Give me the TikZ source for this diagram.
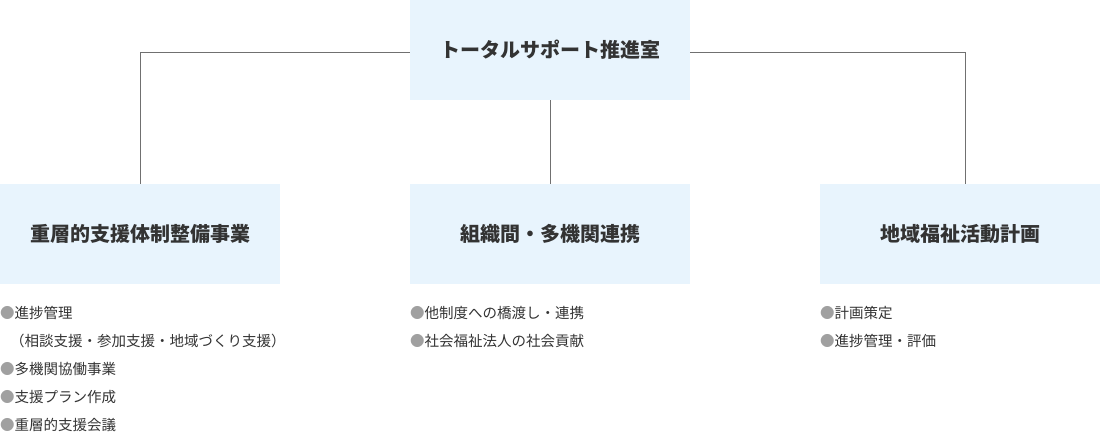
\documentclass[tikz,border=0pt]{standalone}
\usepackage{fontspec}
\setmainfont{Noto Sans CJK JP}
\usetikzlibrary{positioning}
\definecolor{fondo}{HTML}{E8F4FD}
\definecolor{texto}{HTML}{333333}
\definecolor{linea}{HTML}{707070}
\definecolor{punto}{HTML}{A0A0A0}
\newcommand{\punto}{\textcolor{punto}{●}}
\begin{document}
\begin{tikzpicture}[x=1pt, y=-1pt,
    caja/.style={fill=fondo, minimum width=280pt, minimum height=100pt, inner sep=0pt,
      text=texto, font=\fontsize{20}{20}\selectfont\bfseries},
    lista/.style={anchor=west, inner sep=0pt, text=texto, font=\fontsize{14.5}{14.5}\selectfont},
    conector/.style={draw=linea, line width=1pt}]
        \useasboundingbox (0,0) rectangle (1100,436);
        %%%%%%%%%%%%%%%%%%%%%%%% Cajas %%%%%%%%%%%%%%%%%%%%%%%%%%%%%%%%%%%
        \node[caja] (central) at (550,50) {トータルサポート推進室}; %Caja superior
        \node[caja] (izq) at (140,234) {重層的支援体制整備事業};
        \node[caja] (medio) at (550,234) {組織間・多機関連携};
        \node[caja] (der) at (960,234) {地域福祉活動計画};
        %%%%%%%%%%%%%%%%%%%%%%%% Conectores %%%%%%%%%%%%%%%%%%%%%%%%%%%%%%
        \draw[conector] ([yshift=-3pt]central.west) -| (izq.north);
        \draw[conector] ([yshift=-3pt]central.east) -| ([xshift=5pt]der.north);
        \draw[conector] (central.south) -- (medio.north);
        %%%%%%%%%%%%%%%%%%%%%%%% Listas %%%%%%%%%%%%%%%%%%%%%%%%%%%%%%%%%%
        \node[lista] (izq1) at (0,313) {\punto 進捗管理};
        \node[lista] (izq2) at (10,341) {（相談支援・参加支援・地域づくり支援）};
        \node[lista] (izq3) at (0,369) {\punto 多機関協働事業};
        \node[lista] (izq4) at (0,397) {\punto 支援プラン作成};
        \node[lista] (izq5) at (0,425) {\punto 重層的支援会議};
        \node[lista] (medio1) at (410,313) {\punto 他制度への橋渡し・連携};
        \node[lista] (medio2) at (410,341) {\punto 社会福祉法人の社会貢献};
        \node[lista] (der1) at (820,313) {\punto 計画策定};
        \node[lista] (der2) at (820,341) {\punto 進捗管理・評価};
\end{tikzpicture}
\end{document}
